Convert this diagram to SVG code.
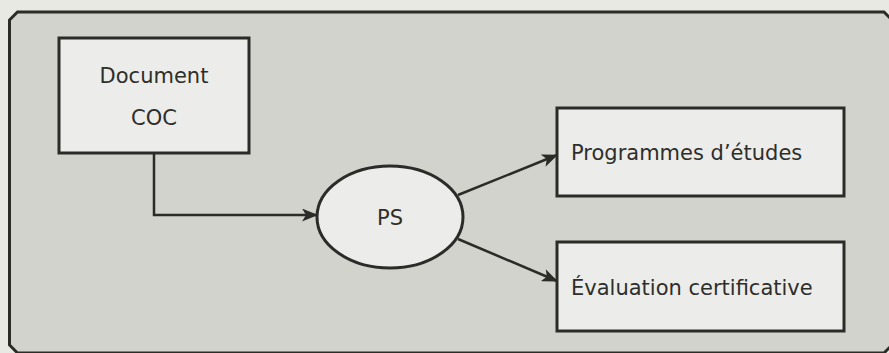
<svg xmlns="http://www.w3.org/2000/svg" width="889" height="353" viewBox="0 0 889 353">
  <defs>
    <marker id="arrow" viewBox="0 0 16 13" refX="15" refY="6.5" markerWidth="16" markerHeight="13" markerUnits="userSpaceOnUse" orient="auto">
      <path d="M0,0 L16,6.5 L0,13 L4,6.5 Z" fill="#2b2b27"/>
    </marker>
    <style>
      .box { fill: #ececea; stroke: #2b2b27; stroke-width: 3; }
      .lbl { font-family: "DejaVu Sans", sans-serif; font-size: 21px; fill: #2e2e2a; }
      .conn { fill: none; stroke: #2b2b27; stroke-width: 2.5; marker-end: url(#arrow); }
    </style>
  </defs>
  <rect x="0" y="0" width="889" height="353" fill="#e9e9e3"/>
  <path id="frame" d="M9.5,20 L17.5,12 L884,12 L892,20 L892,345 L884,353 L17.5,353 L9.5,345 Z" fill="#d3d3ce" stroke="#2b2b27" stroke-width="3"/>
  <g id="connectors">
    <path class="conn" d="M154,153 L154,215 L317,215"/>
    <path class="conn" d="M458,195 L557,155"/>
    <path class="conn" d="M458,239 L557,281"/>
  </g>
  <g id="document-coc">
    <rect class="box" x="59" y="38" width="190" height="115"/>
    <text class="lbl" x="154" y="83" text-anchor="middle">Document</text>
    <text class="lbl" x="154" y="125" text-anchor="middle">COC</text>
  </g>
  <g id="ps">
    <ellipse class="box" cx="390" cy="217" rx="73" ry="51" stroke-width="2.5"/>
    <text class="lbl" x="390" y="225" text-anchor="middle">PS</text>
  </g>
  <g id="programmes">
    <rect class="box" x="557" y="108" width="287" height="88"/>
    <text class="lbl" x="571" y="160">Programmes d’études</text>
  </g>
  <g id="evaluation">
    <rect class="box" x="557" y="242" width="287" height="89"/>
    <text class="lbl" x="571" y="295">Évaluation certificative</text>
  </g>
</svg>
